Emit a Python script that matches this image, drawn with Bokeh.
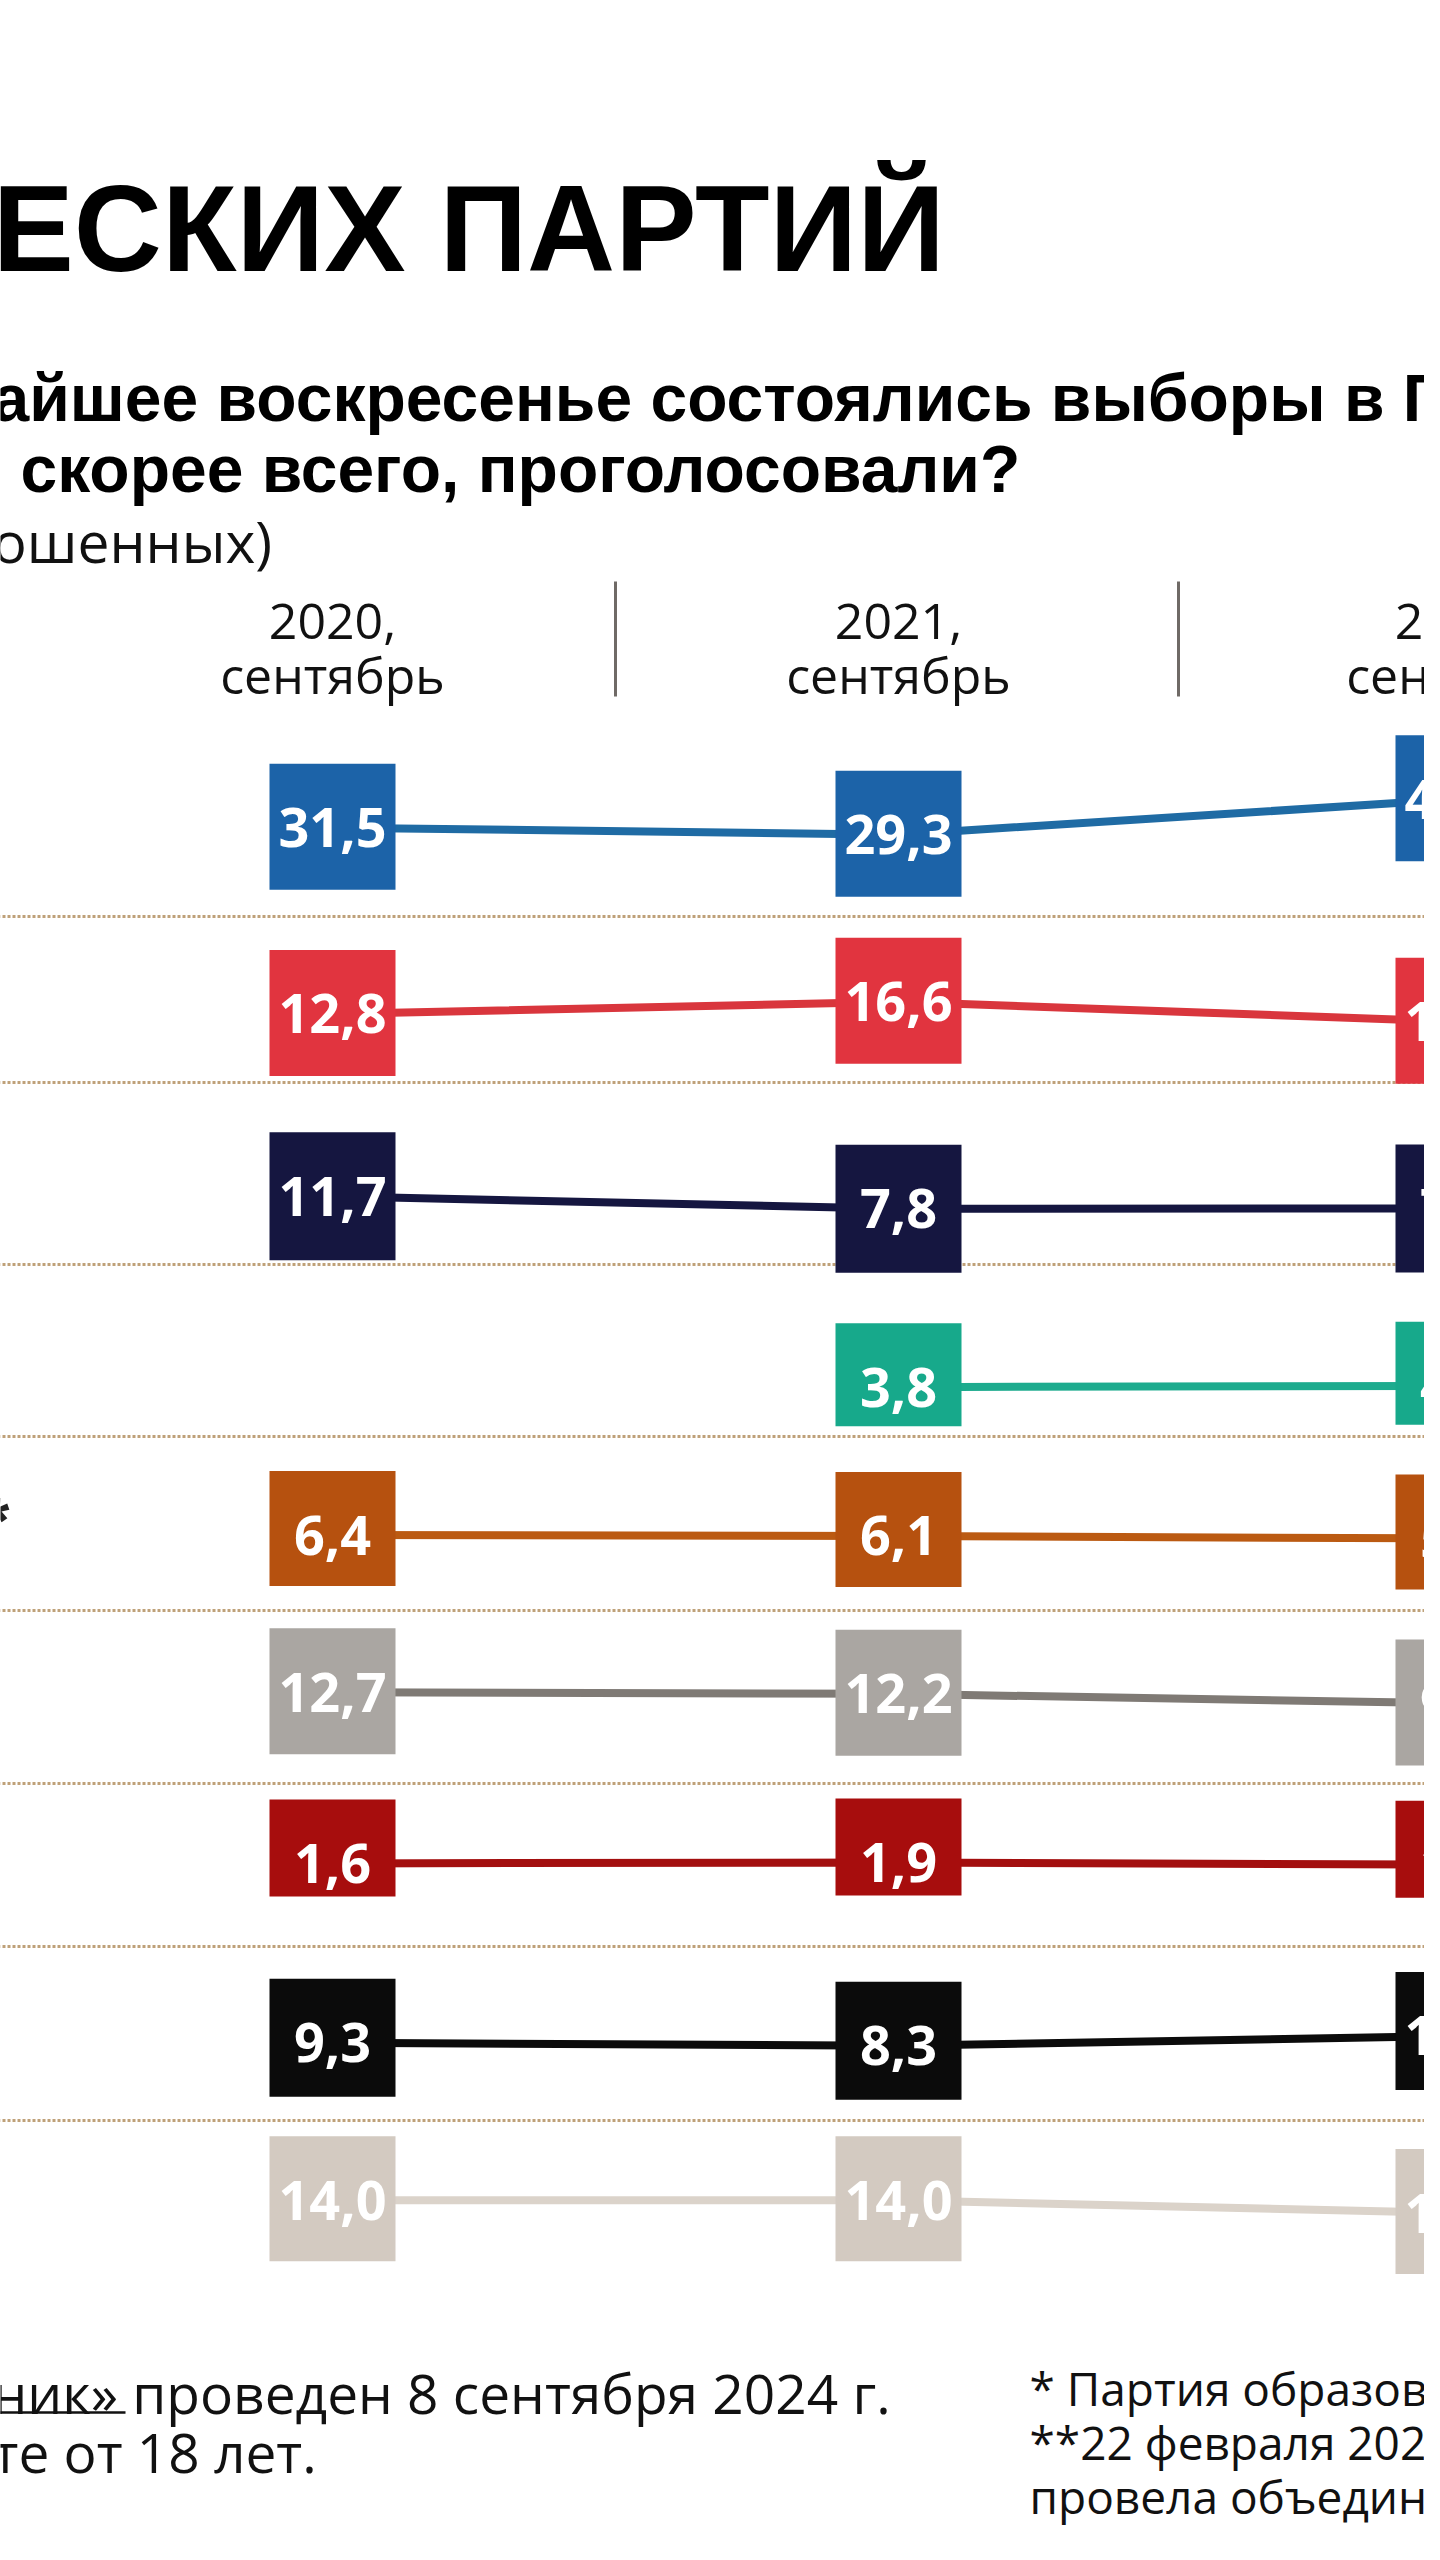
from bokeh.plotting import figure
from bokeh.models import Range1d
from bokeh.core.properties import value
from bokeh.embed import file_html
from bokeh.resources import INLINE

# ---------------- data ----------------
YEARS = ["2020,", "2021,", "2024,"]
MONTH = "сентябрь"
ER = [31.5, 29.3, 40.4]
KPRF = [12.8, 16.6, 10.4]
LDPR = [11.7, 7.8, 7.9]
NL = [None, 3.8, 4.2]
SRZP = [6.4, 6.1, 5.3]
OTHER = [12.7, 12.2, 9.2]
SPOIL = [1.6, 1.9, 1.2]
NOVOTE = [9.3, 8.3, 11.4]
DK = [14.0, 14.0, 10.0]
SERIES = [ER, KPRF, LDPR, NL, SRZP, OTHER, SPOIL, NOVOTE, DK]

# ---------------- styles / layout ----------------
BOX_COL = ["#1c63a8", "#e1343f", "#151640", "#17a98b", "#b6510f",
           "#aaa6a2", "#a70d0d", "#0b0b0b", "#d3cac1"]
LINE_COL = ["#1f6ba4", "#d9363d", "#151640", "#1dab8e", "#bb5a12",
            "#7f7a75", "#a30f0f", "#0b0b0b", "#dbd3ca"]
ROW_Y = [828, 1020, 1212, 1394, 1544, 1704, 1871, 2049, 2212]
BOX_BOTTOM = [62, 62, 64, 39, 51, 62, 33, 54, 61]
BOX_TOP = 64
BOX_HALF_W = 63
K = 3.2
COL_X = [340, 906, 1466]
SEP_Y = [924, 1090, 1272, 1444, 1618, 1791, 1954, 2128]

W, H = 1424, 2544
p = figure(width=W, height=H, output_backend="svg", toolbar_location=None,
           x_range=Range1d(8, 8 + W), y_range=Range1d(8 + H, 8),
           x_axis_location=None, y_axis_location=None, min_border=0,
           outline_line_color=None, background_fill_color="white",
           border_fill_color="white")
p.grid.visible = False

BOLD = value("Liberation Sans")
REG = value("Open Sans")

# title fragments
p.text(x=[0], y=[236], text=["ЕСКИХ ПАРТИЙ"], text_font=BOLD, text_font_style="bold",
       text_font_size="122px", text_color="#000000", text_baseline="alphabetic")
p.text(x=[0, 28], y=[405, 476],
       text=["айшее воскресенье состоялись выборы в Го", "скорее всего, проголосовали?"],
       text_font=BOLD, text_font_style="bold", text_font_size="66px",
       text_color="#000000", text_baseline="alphabetic")
p.text(x=[0], y=[548], text=["ошенных)"], text_font=REG, text_font_size="57px",
       text_color="#111111", text_baseline="alphabetic")

# column headers
p.text(x=COL_X, y=[629] * 3, text=YEARS, text_font=REG, text_font_size="50px",
       text_color="#111111", text_align="center", text_baseline="alphabetic")
p.text(x=COL_X, y=[682] * 3, text=[MONTH] * 3, text_font=REG, text_font_size="50px",
       text_color="#111111", text_align="center", text_baseline="alphabetic")
sep_x = [(COL_X[i] + COL_X[i + 1]) / 2 for i in range(2)]
p.segment(x0=sep_x, x1=sep_x, y0=[589] * 2, y1=[704] * 2, line_color="#6f6a66", line_width=3)

# row separators
p.segment(x0=[0] * len(SEP_Y), x1=[1440] * len(SEP_Y), y0=SEP_Y, y1=SEP_Y,
          line_color="#b8976a", line_width=3, line_dash="3 2", line_alpha=0.9)

# asterisk of row label
p.text(x=[-8], y=[1528], text=["*"], text_font=BOLD, text_font_style="bold",
       text_font_size="64px", text_color="#222222", text_baseline="middle")

# series
for r, vals in enumerate(SERIES):
    valid = [v for v in vals if v is not None]
    mean = sum(valid) / len(valid)
    xs, ys = [], []
    for c, v in enumerate(vals):
        if v is None:
            continue
        xs.append(COL_X[c])
        ys.append(ROW_Y[r] - K * (v - mean))
    p.line(xs, ys, line_color=LINE_COL[r], line_width=8)
    p.quad(left=[x - BOX_HALF_W for x in xs], right=[x + BOX_HALF_W for x in xs],
           top=[y - BOX_TOP for y in ys], bottom=[y + BOX_BOTTOM[r] for y in ys],
           fill_color=BOX_COL[r], line_color=None)
    labels = [f"{v:.1f}".replace(".", ",") for v in valid]
    p.text(x=xs, y=ys, text=labels, text_font=value("Open Sans"), text_font_style="bold",
           text_font_size="54px", text_color="white", text_align="center",
           text_baseline="middle")

# footer
p.text(x=[0, 0], y=[2400, 2459], text=["ник» проведен 8 сентября 2024 г.", "те от 18 лет."],
       text_font=REG, text_font_size="55px", text_color="#111111", text_baseline="alphabetic")
p.segment(x0=[0], x1=[133], y0=[2420], y1=[2420], line_color="#111111", line_width=2.5)
p.text(x=[1037, 1037, 1037], y=[2395, 2449, 2503],
       text=["* Партия образова", "**22 февраля 202", "провела объедине"],
       text_font=REG, text_font_size="46px", text_color="#111111", text_baseline="alphabetic")

open("out.html", "w").write(file_html(p, INLINE))
